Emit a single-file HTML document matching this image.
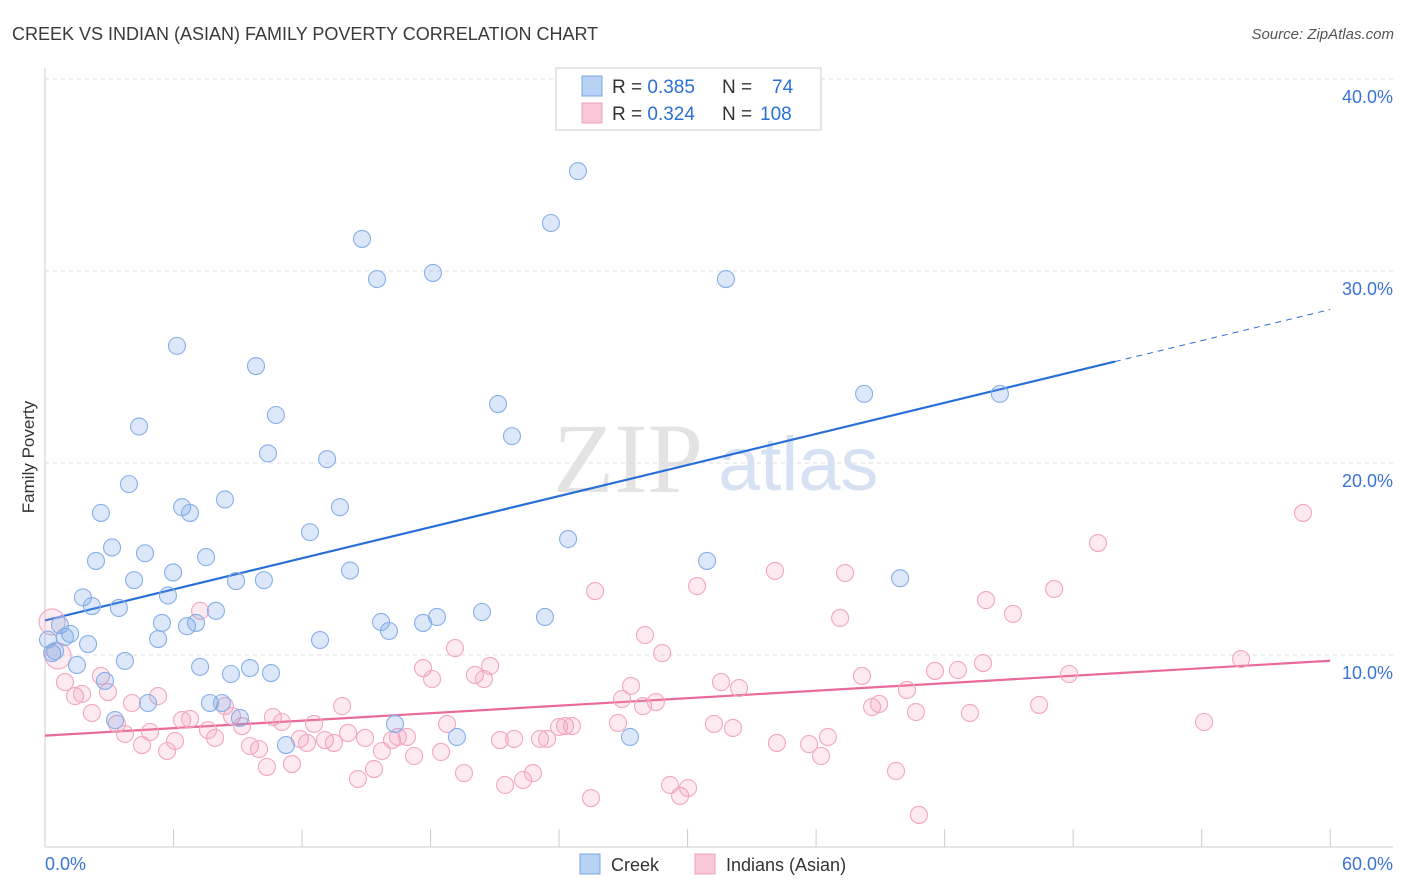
<!DOCTYPE html>
<html><head><meta charset="utf-8"><style>
body{margin:0;background:#fff;font-family:"Liberation Sans",sans-serif;}
#wrap{position:relative;width:1406px;height:892px;overflow:hidden;}
</style></head><body>
<div id="wrap">
<svg id="chart" width="1406" height="892" xmlns="http://www.w3.org/2000/svg">
<text x="12" y="40" font-size="18" fill="#3a3a3a">CREEK VS INDIAN (ASIAN) FAMILY POVERTY CORRELATION CHART</text>
<text x="1394" y="39" font-size="15" fill="#555" font-style="italic" text-anchor="end">Source: ZipAtlas.com</text>
<text transform="translate(34,457) rotate(-90)" font-size="17" fill="#333" text-anchor="middle">Family Poverty</text>
<g><text x="553" y="492" font-size="100" fill="#d8d8d8" font-family="Liberation Serif,serif" opacity="0.7">ZIP</text><text x="718" y="490" font-size="76" fill="#c5d7ef" opacity="0.7">atlas</text></g>
<g id="grid"></g><g id="axes"></g><g id="lines"></g><g id="pts"></g>
<g>
<rect x="556" y="68" width="265" height="62" fill="#fff" stroke="#ccc"/>
<rect x="582" y="76" width="20" height="20" fill="#b8d2f4" stroke="#7aa6e6"/>
<rect x="582" y="103" width="20" height="20" fill="#f9c8d6" stroke="#f0a0b8"/>
<text x="612" y="93" font-size="19" fill="#333">R = <tspan fill="#2a6fd6">0.385</tspan><tspan x="722">N =</tspan><tspan x="772" fill="#2a6fd6">74</tspan></text>
<text x="612" y="120" font-size="19" fill="#333">R = <tspan fill="#2a6fd6">0.324</tspan><tspan x="722">N =</tspan><tspan x="760" fill="#2a6fd6">108</tspan></text>
</g>
<g>
<rect x="580" y="854" width="20" height="20" fill="#b8d2f4" stroke="#7aa6e6"/>
<text x="611" y="871" font-size="18" fill="#333">Creek</text>
<rect x="695" y="854" width="20" height="20" fill="#f9c8d6" stroke="#f0a0b8"/>
<text x="726" y="871" font-size="18" fill="#333">Indians (Asian)</text>
</g>
</svg>
</div>
<script>
const creekX=[6.16,9.85,4.39,10.78,10.41,13.17,3.92,2.61,6.40,6.77,8.40,13.77,12.37,3.13,4.67,2.38,7.52,5.98,4.16,8.92,10.22,14.24,1.77,5.74,2.19,3.45,7.98,5.46,6.63,7.05,5.28,0.70,1.17,0.93,2.01,0.33,0.47,1.49,3.73,7.24,8.68,9.57,10.55,12.84,2.80,7.70,8.26,9.10,3.27,4.81,11.25,16.34,19.23,15.69,16.06,17.65,18.30,20.40,23.34,24.42,30.91,39.92,14.80,15.50,18.11,23.62,24.88,31.79,21.15,21.80,38.24,44.58,27.31,0.14];
const creekY=[26.1,25.05,21.9,22.5,20.5,20.2,18.9,17.4,17.7,17.4,18.1,17.7,16.4,15.6,15.3,14.9,15.1,14.3,13.9,13.85,13.9,14.4,13.0,13.1,12.55,12.45,12.3,11.67,11.5,11.67,10.83,11.56,11.1,10.94,10.57,10.1,10.2,9.48,9.69,9.38,9.01,9.32,9.06,10.78,8.65,7.5,7.5,6.72,6.61,7.5,5.31,6.41,5.73,11.72,11.25,11.67,11.98,12.24,11.98,16.04,14.9,14.0,31.67,29.58,29.9,32.5,35.2,29.58,23.07,21.4,23.6,23.6,5.73,10.8];
const indianX=[0.33,0.61,0.93,1.40,1.73,2.19,2.61,2.94,3.36,3.73,4.06,4.53,4.90,5.28,5.70,6.07,6.40,6.77,7.24,7.61,7.94,8.40,8.73,9.20,9.57,9.99,10.36,10.64,11.06,11.53,11.90,12.23,12.56,13.07,13.49,13.87,14.15,14.61,14.94,15.36,15.73,16.20,16.48,16.90,17.23,17.65,18.07,18.49,18.77,19.14,19.56,20.07,20.49,20.78,21.24,21.48,21.90,22.32,22.78,23.11,23.44,24.0,24.28,24.60,25.49,25.68,26.75,26.94,27.36,28.01,27.92,28.52,28.81,29.18,29.65,30.02,30.44,31.23,31.56,32.12,32.40,34.08,34.17,35.67,36.23,36.55,37.12,37.35,38.14,38.61,38.94,39.73,40.24,40.66,40.80,41.55,42.62,43.18,43.79,43.93,45.19,46.41,47.11,47.81,49.16,54.11,55.84,58.73];
const indianY=[11.72,9.95,8.59,7.86,7.97,6.98,8.91,8.07,6.41,5.89,7.5,5.31,5.99,7.86,5.0,5.52,6.61,6.67,12.3,6.09,5.68,7.34,6.82,6.3,5.26,5.1,4.17,6.77,6.51,4.32,5.63,5.42,6.41,5.57,5.42,7.34,5.94,3.54,5.68,4.06,5.0,5.57,5.73,5.73,4.74,9.32,8.75,4.95,6.41,10.36,3.85,8.96,8.75,9.43,5.57,3.23,5.63,3.49,3.85,5.63,5.63,6.25,6.3,6.3,2.55,13.33,6.46,7.71,8.39,11.04,7.34,7.55,10.1,3.23,2.66,3.07,13.59,6.41,8.59,6.2,8.28,14.38,5.42,5.36,4.74,5.73,11.93,14.27,8.91,7.29,7.45,3.96,8.18,7.03,1.67,9.17,9.22,6.98,9.58,12.86,12.14,7.4,13.44,9.01,15.83,6.51,9.79,17.4];
const creekLine=[11.8,0.2699];
const indianLine=[5.8,0.065];
const yTicks=[10,20,30,40];
const xTickLabels=["0.0%","60.0%"];
const NS="http://www.w3.org/2000/svg";
const sx=v=>45+v*21.42, sy=v=>847-v*19.2;
function mk(tag,attrs,parent){const e=document.createElementNS(NS,tag);for(const k in attrs)e.setAttribute(k,attrs[k]);parent.appendChild(e);return e;}
const grid=document.getElementById('grid'),axes=document.getElementById('axes'),lines=document.getElementById('lines'),pts=document.getElementById('pts');
yTicks.forEach(t=>{
 const l=mk('line',{x1:45,x2:1393,y1:sy(t),y2:sy(t),stroke:'#ddd','stroke-dasharray':'4,4'},grid);
 
 
 const tx=mk('text',{x:1393,y:sy(t)+24,'font-size':18,fill:'#3a73d6','text-anchor':'end'},grid);
 tx.textContent=t.toFixed(1)+'%';
 
 
});
const ya=mk('line',{x1:45,x2:45,y1:68,y2:847,stroke:'#ccc'},axes);


const xa=mk('line',{x1:45,x2:1393,y1:847,y2:847,stroke:'#ccc'},axes);


for(let i=0;i<=10;i++){const t=mk('line',{x1:sx(i*6),x2:sx(i*6),y1:829,y2:847,stroke:'#ccc'},axes);
 
 }
[[0,'start',45],[60,'end',1393]].forEach((d,i)=>{const t=mk('text',{x:d[2],y:870,'font-size':18,fill:'#3a73d6','text-anchor':d[1]},axes);t.textContent=xTickLabels[i];
 
 });
function drawPts(X,Y,fill,stroke,name){X.forEach((x,i)=>{
 const r=(name==='indian-point'&&i<2)?13:8.5;
 const c=mk('circle',{cx:sx(x),cy:sy(Y[i]),r:r,fill:fill,stroke:stroke,'stroke-width':1.1},pts);
 
 });}
drawPts(indianX,indianY,'rgba(244,150,180,0.2)','#f2a6c0','indian-point');
drawPts(creekX,creekY,'rgba(110,160,232,0.24)','#86afe8','creek-point');
const cl=mk('line',{x1:sx(0),y1:sy(creekLine[0]),x2:sx(49.95),y2:sy(creekLine[0]+creekLine[1]*49.95),stroke:'#2a6fd6','stroke-width':2.2},lines);


const cd=mk('line',{x1:sx(49.95),y1:sy(creekLine[0]+creekLine[1]*49.95),x2:sx(60),y2:sy(creekLine[0]+creekLine[1]*60),stroke:'#2a6fd6','stroke-width':1,'stroke-dasharray':'6,5'},lines);


const il=mk('line',{x1:sx(0),y1:sy(indianLine[0]),x2:sx(60),y2:sy(indianLine[0]+indianLine[1]*60),stroke:'#e8699a','stroke-width':2.2},lines);


</script>
</body></html>
